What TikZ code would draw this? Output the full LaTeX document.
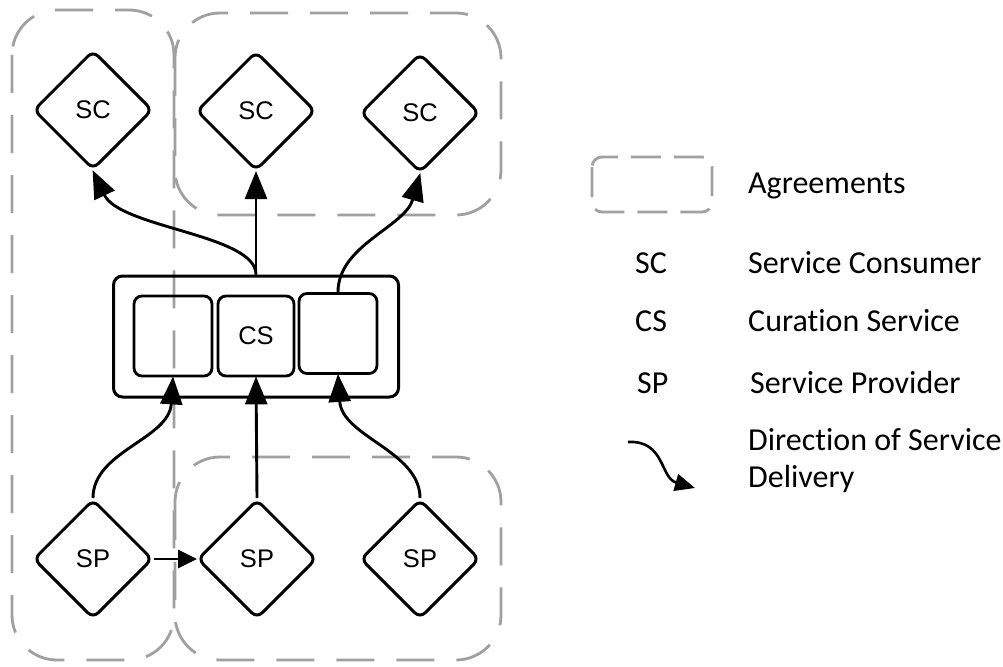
\documentclass[tikz,border=0pt]{standalone}
\usepackage{fontspec}
\newfontfamily\diafont{Liberation Sans}
\newfontfamily\legfont{Carlito}[Ligatures=NoCommon]
\usetikzlibrary{shapes.geometric,arrows.meta}
\definecolor{agreegray}{RGB}{160,160,160}
\begin{document}
\begin{tikzpicture}[x=1pt,y=-1pt,
  agreement/.style={draw=agreegray, line width=2.8pt, dash pattern=on 38pt off 22pt, rounded corners=45pt},
  party/.style={draw, shape=diamond, aspect=1, minimum width=119pt, minimum height=119pt,
    inner sep=0pt, line width=3pt, rounded corners=7pt, font=\diafont\fontsize{25.5}{30}\selectfont},
  hub/.style={draw, line width=3pt, rounded corners=9pt, minimum width=285pt, minimum height=121pt, inner sep=0pt},
  cell/.style={draw, line width=2.8pt, rounded corners=8pt, minimum height=80pt, inner sep=0pt,
    font=\diafont\fontsize{25.5}{30}\selectfont},
  flow/.style={line width=2.9pt, -{Triangle[length=28pt,width=22pt]}, shorten >=-1pt},
  smallflow/.style={line width=2.9pt, -{Triangle[length=19pt,width=18pt]}, shorten >=-1pt},
  legtext/.style={anchor=base west, inner sep=0pt, font=\legfont\fontsize{32}{37}\selectfont}]
\useasboundingbox (0,0) rectangle (1003,666);

% agreement regions
\draw[agreement] (12,10) rectangle (174,660);
\draw[agreement] (175,13) rectangle (501,215);
\draw[agreement] (175,457) rectangle (501,660);

% consumers
\node[party] (sc1) at (93,110) {SC};
\node[party] (sc2) at (256,111) {SC};
\node[party] (sc3) at (420,113) {SC};

% providers
\node[party] (sp1) at (93,559) {SP};
\node[party] (sp2) at (257,559) {SP};
\node[party] (sp3) at (420,559) {SP};

% curation service
\node[hub] (cs) at (256,336.5) {};
\node[cell, minimum width=78pt] (c1) at (173,336) {};
\node[cell, minimum width=76pt] (c2) at (256,336) {CS};
\node[cell, minimum width=78pt] (c3) at (338,333.5) {};

% delivery towards consumers
\draw[flow] (cs.north) .. controls +(0,-40) and +(27,57) .. (sc1.south);
\draw[flow] (cs.north) -- (sc2.south);
\draw[flow] (c3.north) .. controls +(0,-47) and +(-15,53) .. (sc3.south);

% delivery from providers
\draw[flow] (sp1.north) .. controls +(0,-47) and +(-4,62) .. (c1.south);
\draw[flow] (sp2.north) -- (c2.south);
\draw[flow] (sp3.north) .. controls +(0,-47) and +(4,62) .. (c3.south);
\draw[smallflow] (sp1.east) -- (sp2.west);

% legend
\draw[agreement, rounded corners=10pt, dash pattern=on 30pt off 13pt] (592,157) rectangle (712,212);
\node[legtext] (lagr) at (748,193) {Agreements};
\node[legtext] (ksc) at (635,273) {SC};
\node[legtext] (lsc) at (748,273) {Service Consumer};
\node[legtext] (kcs) at (635,331) {CS};
\node[legtext] (lcs) at (748,331) {Curation Service};
\node[legtext] (ksp) at (637,393) {SP};
\node[legtext] (lsp) at (750,393) {Service Provider};
\node[legtext] (ldir) at (748,450) {Direction of Service};
\node[legtext] (ldel) at (748,487) {Delivery};
\coordinate (dirA) at (628,442);
\coordinate (dirB) at (695,488);
\draw[line width=2.6pt, -{Triangle[length=20pt,width=17pt]}] (dirA) .. controls (665,440) and (660,478) .. (dirB);
\end{tikzpicture}
\end{document}
